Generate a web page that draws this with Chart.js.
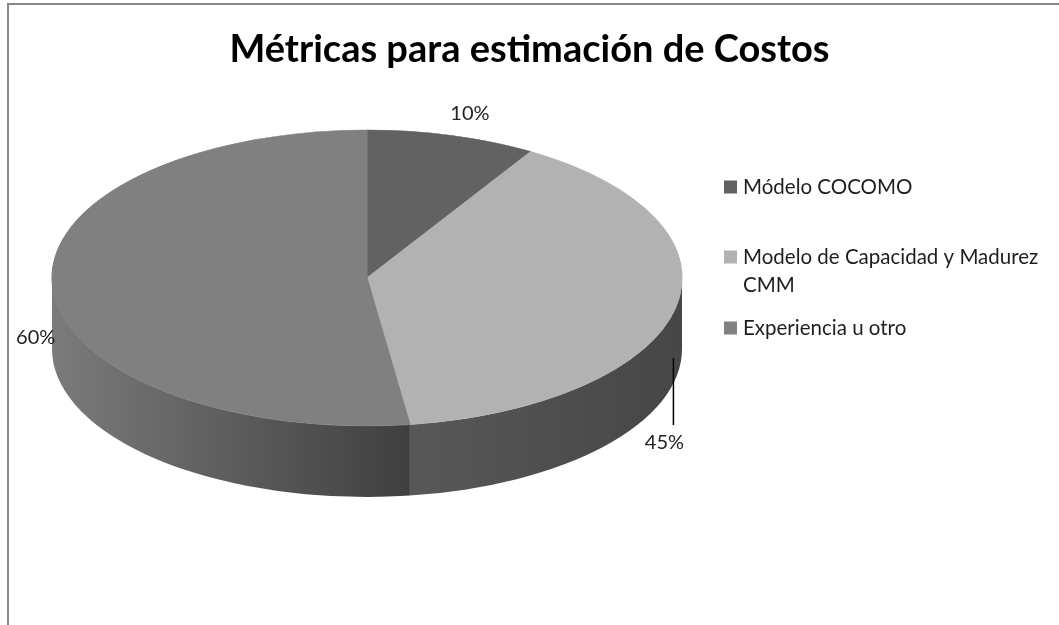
<!DOCTYPE html>
<html>
<head>
<meta charset="utf-8">
<title>Métricas para estimación de Costos</title>
<script src="https://cdn.jsdelivr.net/npm/chart.js@4.4.1/dist/chart.umd.min.js"></script>
<style>
  html, body { margin: 0; padding: 0; background: #fff; overflow: hidden; }
  canvas { display: block; }
</style>
</head>
<body>
<canvas id="chart" width="1059" height="625"></canvas>
<script>
// ---- chart content ----
const chartTitle = 'Métricas para estimación de Costos';
const categories = ['Módelo COCOMO', 'Modelo de Capacidad y Madurez CMM', 'Experiencia u otro'];
const percentages = [10, 45, 60];

// ---- styling ----
const FONT = 'Lato, "Open Sans", "DejaVu Sans", sans-serif';
const topColors = ['#626262', '#b2b2b2', '#808080'];
// side-wall shading per slice: [left colour, right colour]
const wallShades = [['#555555', '#474747'], ['#585858', '#464646'], ['#7b7b7b', '#3f3f3f']];

// tilted disc on the page: centre, radii of the top face and wall height
const disc = { cx: 367, cy: 278, rx: 315, ry: 148, depth: 71 };

// value labels, offset from the rim point at each slice's middle angle
const labelPlacement = [
  { dx: 18, dy: -22 },
  { dx: -11, dy: 134, leader: [-2, 50, -2, 117] },
  { dx: -17, dy: 49 }
];

const legendBox = { squareX: 724, square: 13, textX: 743, rows: [187, 257, 328], lineHeight: 28, wrapWidth: 320 };

// parts of [s, e] that face the viewer (canvas angles 0..PI are the lower half)
function frontSpans(s, e) {
  const spans = [];
  for (let k = -1; k <= 1; k++) {
    const base = 2 * Math.PI * k;
    const lo = Math.max(s, base), hi = Math.min(e, base + Math.PI);
    if (hi > lo) spans.push([lo - base, hi - base]);
  }
  return spans;
}

function drawWall(ctx, a0, a1, shades) {
  const { cx, cy, rx, ry, depth } = disc;
  const xa = cx + rx * Math.cos(a0), xb = cx + rx * Math.cos(a1);
  const g = ctx.createLinearGradient(Math.min(xa, xb), 0, Math.max(xa, xb), 0);
  g.addColorStop(0, shades[0]);
  g.addColorStop(1, shades[1]);
  ctx.beginPath();
  ctx.ellipse(cx, cy, rx, ry, 0, a0, a1);
  ctx.ellipse(cx, cy + depth, rx, ry, 0, a1, a0, true);
  ctx.closePath();
  ctx.fillStyle = g;
  ctx.fill();
}

function wrapWords(ctx, text, maxWidth) {
  const words = text.split(' ');
  const lines = [];
  let line = '';
  words.forEach(w => {
    const test = line ? line + ' ' + w : w;
    if (line && ctx.measureText(test).width > maxWidth) {
      lines.push(line);
      line = w;
    } else {
      line = test;
    }
  });
  if (line) lines.push(line);
  return lines;
}

const tiltedPie = {
  id: 'tiltedPie',
  beforeDraw(chart) {
    const ctx = chart.ctx;
    ctx.save();
    ctx.fillStyle = '#ffffff';
    ctx.fillRect(0, 0, chart.width, chart.height);
    ctx.strokeStyle = '#878787';
    ctx.lineWidth = 2;
    ctx.strokeRect(8, 4, chart.width + 40, chart.height + 40);
    ctx.restore();
  },
  beforeDatasetsDraw(chart) {
    const ctx = chart.ctx;
    const arcs = chart.getDatasetMeta(0).data;
    // side walls first, so the top face covers their upper rim
    arcs.forEach((arc, i) => {
      const { startAngle, endAngle } = arc.getProps(['startAngle', 'endAngle'], true);
      frontSpans(startAngle, endAngle).forEach(([a0, a1]) => drawWall(ctx, a0, a1, wallShades[i]));
    });
    // squash the pie into the tilted top face
    const { x, y, outerRadius } = arcs[0].getProps(['x', 'y', 'outerRadius'], true);
    ctx.save();
    ctx.translate(disc.cx, disc.cy);
    ctx.scale(disc.rx / outerRadius, disc.ry / outerRadius);
    ctx.translate(-x, -y);
  },
  afterDatasetsDraw(chart) {
    chart.ctx.restore();
  },
  afterDraw(chart) {
    const ctx = chart.ctx;
    const arcs = chart.getDatasetMeta(0).data;
    ctx.save();

    // value labels
    ctx.font = '20px ' + FONT;
    ctx.fillStyle = '#222222';
    ctx.textAlign = 'center';
    ctx.textBaseline = 'middle';
    arcs.forEach((arc, i) => {
      const { startAngle, endAngle } = arc.getProps(['startAngle', 'endAngle'], true);
      const mid = (startAngle + endAngle) / 2;
      const px = disc.cx + disc.rx * Math.cos(mid);
      const py = disc.cy + disc.ry * Math.sin(mid);
      const p = labelPlacement[i];
      if (p.leader) {
        ctx.beginPath();
        ctx.moveTo(px + p.leader[0], py + p.leader[1]);
        ctx.lineTo(px + p.leader[2], py + p.leader[3]);
        ctx.strokeStyle = '#000';
        ctx.lineWidth = 1.5;
        ctx.stroke();
      }
      ctx.fillText(percentages[i] + '%', px + p.dx, py + p.dy);
    });

    // legend
    ctx.font = '20.5px ' + FONT;
    ctx.textAlign = 'left';
    categories.forEach((name, i) => {
      const rowY = legendBox.rows[i];
      ctx.fillStyle = topColors[i];
      ctx.fillRect(legendBox.squareX, rowY - legendBox.square / 2, legendBox.square, legendBox.square);
      ctx.fillStyle = '#1e1e1e';
      wrapWords(ctx, name, legendBox.wrapWidth).forEach((line, j) => {
        ctx.fillText(line, legendBox.textX, rowY + j * legendBox.lineHeight);
      });
    });
    ctx.restore();
  }
};

new Chart(document.getElementById('chart'), {
  type: 'pie',
  data: {
    labels: categories,
    datasets: [{
      data: percentages,
      backgroundColor: topColors,
      borderColor: topColors,
      borderWidth: 1,
      clip: false
    }]
  },
  options: {
    responsive: false,
    animation: false,
    events: [],
    layout: { padding: 0 },
    plugins: {
      legend: { display: false },
      tooltip: { enabled: false },
      title: {
        display: true,
        text: chartTitle,
        color: '#000',
        font: { family: FONT, size: 38, weight: 'bold' },
        padding: { top: 27, bottom: 10 }
      }
    }
  },
  plugins: [tiltedPie]
});
</script>
</body>
</html>
